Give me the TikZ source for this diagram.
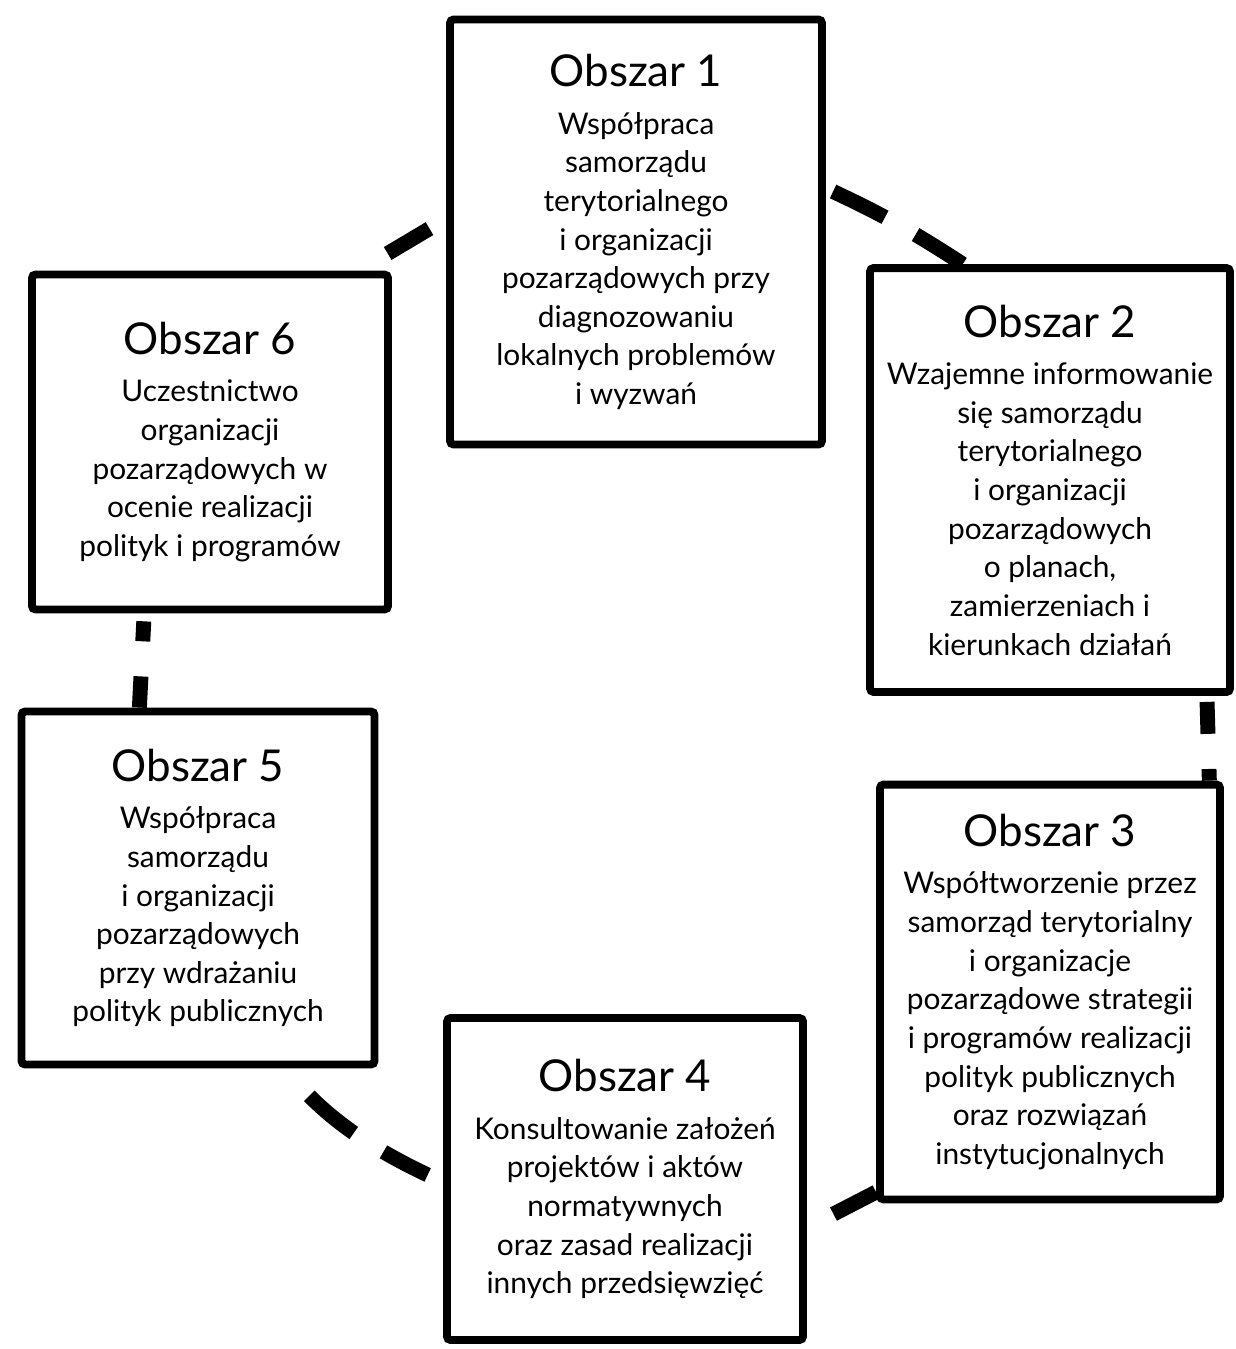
\documentclass[tikz,border=0pt]{standalone}
\usepackage{fontspec}
\setmainfont{Lato}
\newcommand{\areatitle}[1]{{\fontsize{25}{28}\selectfont Obszar #1}\\[5pt]}

\begin{document}
\begin{tikzpicture}[x=0.02cm, y=-0.02cm,
    area/.style={rectangle, draw, line width=4.5pt, rounded corners=2pt, align=center,
      font=\fontsize{17}{22}\selectfont},
    link/.style={line width=8.5pt, dash pattern=on 33pt off 20pt}]
  \useasboundingbox (0, 0) rectangle (1235, 1349);
  % Nodes
  \node (b1) [area, minimum width=7.44cm, minimum height=8.5cm] at (636, 232)
    {\areatitle{1}Współpraca\\samorządu\\terytorialnego\\i organizacji\\pozarządowych przy\\diagnozowaniu\\lokalnych problemów\\i wyzwań};
  \node (b2) [area, minimum width=7.2cm, minimum height=8.48cm] at (1050, 480)
    {\areatitle{2}Wzajemne informowanie\\się samorządu\\terytorialnego\\i organizacji\\pozarządowych\\o planach,\\zamierzeniach i\\kierunkach działań};
  \node (b3) [area, minimum width=6.8cm, minimum height=8.3cm] at (1050, 992)
    {\areatitle{3}Współtworzenie przez\\samorząd terytorialny\\i organizacje\\pozarządowe strategii\\i programów realizacji\\polityk publicznych\\oraz rozwiązań\\instytucjonalnych};
  \node (b4) [area, minimum width=7.12cm, minimum height=6.44cm] at (625, 1179)
    {\areatitle{4}Konsultowanie założeń\\projektów i aktów\\normatywnych\\oraz zasad realizacji\\innych przedsięwzięć};
  \node (b5) [area, minimum width=7.06cm, minimum height=7.06cm] at (198, 888)
    {\areatitle{5}Współpraca\\samorządu\\i organizacji\\pozarządowych\\przy wdrażaniu\\polityk publicznych};
  \node (b6) [area, minimum width=7.12cm, minimum height=6.7cm] at (210, 442)
    {\areatitle{6}Uczestnictwo\\organizacji\\pozarządowych w\\ocenie realizacji\\polityk i programów};
  % Links
  \draw[link, shorten <=4.5pt] (b1.13) to[bend left=4] (b2.112);
  \draw[link, shorten <=3.4pt, dash phase=14.8pt] (b2.306) -- (b3.53.4);
  \draw[link, shorten <=17pt] (b4.345.5) -- (b3.229.5);
  \draw[link, shorten <=22pt, shorten >=9.7pt] (b5.295) to[bend right=10] (b4.181);
  \draw[link, shorten <=4.5pt, dash phase=21.6pt] (b6.249) -- (b5.108);
  \draw[link, shorten <=19pt, shorten >=11pt] (b6.49) -- (b1.176);
\end{tikzpicture}
\end{document}
